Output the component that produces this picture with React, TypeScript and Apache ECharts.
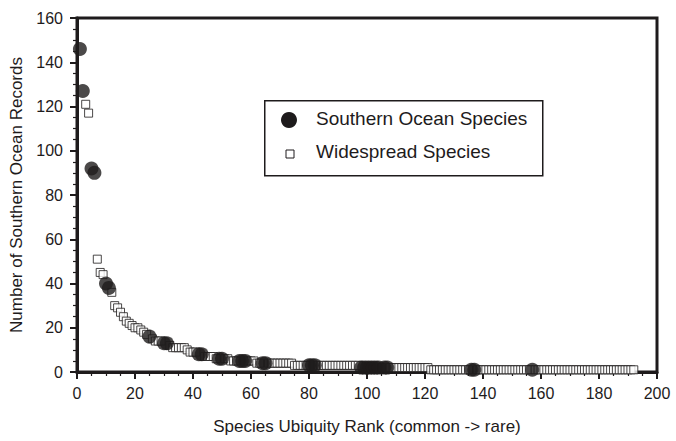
import React, { useEffect, useRef } from "react";
import * as echarts from "echarts";

const xTicks = [0, 20, 40, 60, 80, 100, 120, 140, 160, 180, 200];
const yTicks = [0, 20, 40, 60, 80, 100, 120, 140, 160];

const southernOcean: [number, number][] = [
  [1, 146], [2, 127], [5, 92], [6, 90], [10, 40], [11, 38], [25, 16], [30, 13], [31, 13],
  [42, 8], [43, 8], [49, 6], [50, 6], [56, 5], [57, 5], [58, 5], [64, 4], [65, 4],
  [80, 3], [81, 3], [82, 3], [98, 2], [99, 2], [100, 2], [101, 2], [102, 2], [103, 2],
  [104, 2], [106, 2], [107, 2], [136, 1], [137, 1], [157, 1],
];

const widespread: [number, number][] = [
  [3, 121], [4, 117], [7, 51], [8, 45], [9, 44], [12, 36], [13, 30], [14, 29], [15, 27],
  [16, 25], [17, 23], [18, 22], [19, 21], [20, 20], [21, 20], [22, 19], [23, 18], [24, 17],
  [26, 15], [27, 14], [28, 14], [29, 14], [32, 12], [33, 11], [34, 11], [35, 11], [36, 11],
  [37, 11], [38, 10], [39, 9], [40, 9], [41, 9], [44, 7], [45, 7], [46, 7], [47, 7], [48, 6],
  [51, 6], [52, 6], [53, 5], [54, 5], [55, 5], [59, 5], [60, 5], [61, 5], [62, 4], [63, 4],
  [66, 4], [67, 4], [68, 4], [69, 4], [70, 4], [71, 4], [72, 4], [73, 4], [74, 4],
  [75, 3], [76, 3], [77, 3], [78, 3], [79, 3],
  [83, 3], [84, 3], [85, 3], [86, 3], [87, 3], [88, 3], [89, 3], [90, 3], [91, 3], [92, 3],
  [93, 3], [94, 3], [95, 3], [96, 3], [97, 3], [105, 2],
  [108, 2], [109, 2], [110, 2], [111, 2], [112, 2], [113, 2], [114, 2], [115, 2], [116, 2],
  [117, 2], [118, 2], [119, 2], [120, 2], [121, 2],
  [122, 1], [123, 1], [124, 1], [125, 1], [126, 1], [127, 1], [128, 1], [129, 1], [130, 1],
  [131, 1], [132, 1], [133, 1], [134, 1], [135, 1],
  [138, 1], [139, 1], [140, 1], [141, 1], [142, 1], [143, 1], [144, 1], [145, 1], [146, 1],
  [147, 1], [148, 1], [149, 1], [150, 1], [151, 1], [152, 1], [153, 1], [154, 1], [155, 1], [156, 1],
  [158, 1], [159, 1], [160, 1], [161, 1], [162, 1], [163, 1], [164, 1], [165, 1], [166, 1],
  [167, 1], [168, 1], [169, 1], [170, 1], [171, 1], [172, 1], [173, 1], [174, 1], [175, 1],
  [176, 1], [177, 1], [178, 1], [179, 1], [180, 1], [181, 1], [182, 1], [183, 1], [184, 1],
  [185, 1], [186, 1], [187, 1], [188, 1], [189, 1], [190, 1], [191, 1], [192, 1],
];

const seriesNames = ["Southern Ocean Species", "Widespread Species"];
const xAxisName = "Species Ubiquity Rank (common -> rare)";
const yAxisName = "Number of Southern Ocean Records";

const INK = "#1e1b1c";
const FONT = "'Liberation Sans', Arial, Helvetica, sans-serif";

export default function App() {
  const ref = useRef<HTMLDivElement>(null);
  useEffect(() => {
    if (!ref.current) return;
    const chart = echarts.init(ref.current, undefined, { renderer: "svg" });
    chart.setOption({
      animation: false,
      backgroundColor: "#ffffff",
      textStyle: { fontFamily: FONT, color: INK },
      grid: {
        left: 77, top: 18, width: 580, height: 354,
        show: true, borderColor: INK, borderWidth: 3, backgroundColor: "transparent",
      },
      xAxis: {
        type: "value",
        min: xTicks[0], max: xTicks[xTicks.length - 1], interval: 20,
        name: xAxisName, nameLocation: "middle", nameGap: 46,
        nameTextStyle: { fontSize: 17, color: INK, fontFamily: FONT },
        axisLine: { show: true, lineStyle: { color: INK, width: 3 } },
        axisTick: { show: true, length: 7, lineStyle: { color: INK, width: 2 } },
        minorTick: { show: true, splitNumber: 4, length: 4, lineStyle: { color: INK, width: 1.2 } },
        axisLabel: { fontSize: 16, color: INK, margin: 13, fontFamily: FONT },
        splitLine: { show: false },
      },
      yAxis: {
        type: "value",
        min: yTicks[0], max: yTicks[yTicks.length - 1], interval: 20,
        name: yAxisName, nameLocation: "middle", nameGap: 51,
        nameTextStyle: { fontSize: 17, color: INK, fontFamily: FONT },
        axisLine: { show: true, lineStyle: { color: INK, width: 3 } },
        axisTick: { show: true, length: 7, lineStyle: { color: INK, width: 2 } },
        minorTick: { show: true, splitNumber: 4, length: 4, lineStyle: { color: INK, width: 1.2 } },
        axisLabel: { fontSize: 16, color: INK, margin: 14, fontFamily: FONT },
        splitLine: { show: false },
      },
      series: [
        {
          name: seriesNames[1],
          type: "scatter",
          data: widespread,
          symbol: "rect",
          symbolSize: 8,
          itemStyle: { color: "#ffffff", borderColor: INK, borderWidth: 1 },
          z: 2,
        },
        {
          name: seriesNames[0],
          type: "scatter",
          data: southernOcean,
          symbol: "circle",
          symbolSize: 14,
          itemStyle: { color: INK },
          z: 3,
        },
      ],
      graphic: [
        {
          type: "rect", left: 264, top: 100, z: 10,
          shape: { width: 278, height: 75 },
          style: { fill: "#ffffff", stroke: INK, lineWidth: 1.5 },
        },
        {
          type: "circle", z: 11,
          shape: { cx: 289, cy: 120, r: 8 },
          style: { fill: INK },
        },
        {
          type: "text", x: 316, y: 118, z: 11,
          style: { text: seriesNames[0], fontSize: 19, fontFamily: FONT, fill: INK, verticalAlign: "middle" },
        },
        {
          type: "rect", z: 11,
          shape: { x: 286, y: 150, width: 8, height: 8 },
          style: { fill: "#ffffff", stroke: INK, lineWidth: 1 },
        },
        {
          type: "text", x: 316, y: 151, z: 11,
          style: { text: seriesNames[1], fontSize: 19, fontFamily: FONT, fill: INK, verticalAlign: "middle" },
        },
      ],
    });
    return () => chart.dispose();
  }, []);
  return <div ref={ref} style={{ position: "fixed", left: 0, top: 0, width: 676, height: 441 }} />;
}
